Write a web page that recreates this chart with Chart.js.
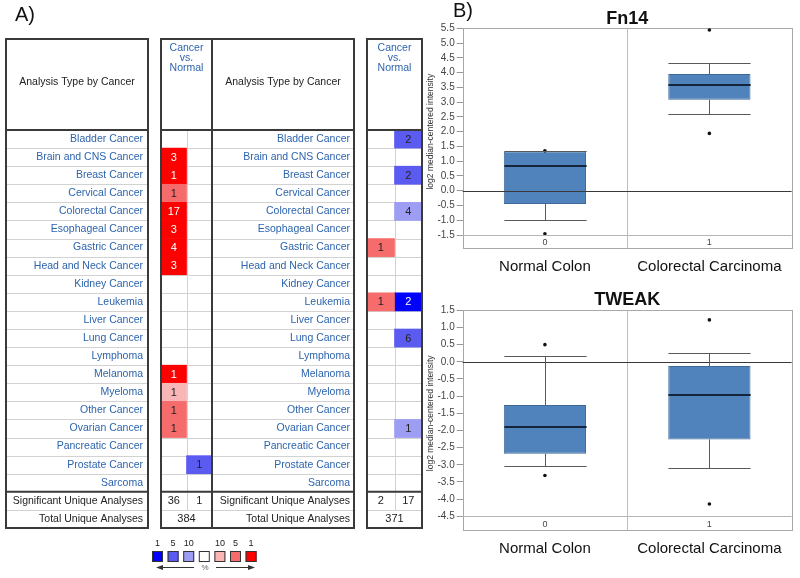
<!DOCTYPE html>
<html>
<head>
<meta charset="utf-8">
<script src="https://cdn.jsdelivr.net/npm/chart.js@4.4.1/dist/chart.umd.min.js"></script>
<style>
html, body { margin: 0; padding: 0; background: #fff; }
#wrap { position: relative; width: 800px; height: 578px; overflow: hidden; }
canvas { position: absolute; }
</style>
</head>
<body>
<div id="wrap">
  <canvas id="tab1" width="360" height="578" style="left:0;top:0"></canvas>
  <canvas id="tab2" width="218" height="578" style="left:212px;top:0"></canvas>
  <canvas id="fn14" width="380" height="280" style="left:420px;top:0"></canvas>
  <canvas id="tweak" width="380" height="308" style="left:420px;top:270px"></canvas>
</div>
<script>
// ---- A) heat table data ----
const cancers = ['Bladder Cancer', 'Brain and CNS Cancer', 'Breast Cancer', 'Cervical Cancer',
  'Colorectal Cancer', 'Esophageal Cancer', 'Gastric Cancer', 'Head and Neck Cancer', 'Kidney Cancer',
  'Leukemia', 'Liver Cancer', 'Lung Cancer', 'Lymphoma', 'Melanoma', 'Myeloma', 'Other Cancer',
  'Ovarian Cancer', 'Pancreatic Cancer', 'Prostate Cancer', 'Sarcoma'];
const summaryRows = ['Significant Unique Analyses', 'Total Unique Analyses'];

// number of analyses and gene rank class (top 1/5/10 %)
const fn14Up       = [null, 3, 1, 1, 17, 3, 4, 3, null, null, null, null, null, 1, 1, 1, 1, null, null, null];
const fn14UpRank   = [null, 1, 1, 5, 1, 1, 1, 1, null, null, null, null, null, 1, 10, 5, 5, null, null, null];
const fn14Down     = [null, null, null, null, null, null, null, null, null, null, null, null, null, null, null, null, null, null, 1, null];
const fn14DownRank = [null, null, null, null, null, null, null, null, null, null, null, null, null, null, null, null, null, null, 5, null];
const fn14Sig = [36, 1];
const fn14Total = 384;

const tweakUp       = [null, null, null, null, null, null, 1, null, null, 1, null, null, null, null, null, null, null, null, null, null];
const tweakUpRank   = [null, null, null, null, null, null, 5, null, null, 5, null, null, null, null, null, null, null, null, null, null];
const tweakDown     = [2, null, 2, null, 4, null, null, null, null, 2, null, 6, null, null, null, null, 1, null, null, null];
const tweakDownRank = [5, null, 5, null, 10, null, null, null, null, 1, null, 5, null, null, null, null, 10, null, null, null];
const tweakSig = [2, 17];
const tweakTotal = 371;

const rankKey = [1, 5, 10];
const upColors = { 1: '#fd0000', 5: '#f66b6b', 10: '#f8b6b6' };
const downColors = { 1: '#0000fb', 5: '#5b5bf1', 10: '#9d9df4' };

// ---- B) box plots ----
const groups = ['Normal Colon', 'Colorectal Carcinoma'];
const fn14Q1 = [-0.45, 3.08];
const fn14Med = [0.83, 3.59];
const fn14Q3 = [1.33, 3.95];
const fn14Lo = [-1.0, 2.6];
const fn14Hi = [1.33, 4.33];
const fn14Out = [[1.35, -1.46], [5.44, 1.94]];

const tweakQ1 = [-2.68, -2.26];
const tweakMed = [-1.9, -0.97];
const tweakQ3 = [-1.26, -0.12];
const tweakLo = [-3.04, -3.1];
const tweakHi = [0.17, 0.25];
const tweakOut = [[0.5, -3.31], [1.22, -4.14]];

const FONT = '"Liberation Sans", Arial, sans-serif';
const LINK = '#2d64ad';
const HEAD_TOP = 39;

function seg(ctx, x1, y1, x2, y2) {
  ctx.beginPath(); ctx.moveTo(x1, y1); ctx.lineTo(x2, y2); ctx.stroke();
}
function txt(ctx, s, x, y, font, color, align) {
  ctx.font = font; ctx.fillStyle = color;
  ctx.textAlign = align || 'center'; ctx.textBaseline = 'middle';
  ctx.fillText(s, x, y);
}

function drawRankKey(ctx) {
  const keyColors = [downColors[1], downColors[5], downColors[10], '#ffffff', upColors[10], upColors[5], upColors[1]];
  const keyLabels = [rankKey[0], rankKey[1], rankKey[2], '', rankKey[2], rankKey[1], rankKey[0]];
  keyColors.forEach((c, k) => {
    const x0 = 152 + k * 15.6;
    ctx.fillStyle = c;
    ctx.fillRect(x0, 551, 11, 11);
    ctx.strokeStyle = '#333'; ctx.lineWidth = 1;
    ctx.strokeRect(x0 + 0.5, 551.5, 10, 10);
    txt(ctx, String(keyLabels[k]), x0 + 5.5, 544, '9px ' + FONT, '#222');
  });
  ctx.strokeStyle = '#333'; ctx.fillStyle = '#333'; ctx.lineWidth = 1;
  seg(ctx, 160, 567.5, 194, 567.5);
  ctx.beginPath(); ctx.moveTo(156, 567.5); ctx.lineTo(163, 565); ctx.lineTo(163, 570); ctx.fill();
  seg(ctx, 216, 567.5, 251, 567.5);
  ctx.beginPath(); ctx.moveTo(255, 567.5); ctx.lineTo(248, 565); ctx.lineTo(248, 570); ctx.fill();
  txt(ctx, '%', 205, 568, '8px ' + FONT, '#666');
}

function tablePlugin(t) {
  const nRows = cancers.length + summaryRows.length;
  return {
    id: 'heatTable',
    beforeDatasetsDraw(chart) {
      const { ctx, chartArea: a, scales: { x } } = chart;
      const rowH = (a.bottom - a.top) / nRows;
      ctx.save();
      ctx.strokeStyle = '#d2d2d2';
      ctx.lineWidth = 1;
      for (let i = 1; i < nRows; i++) {
        if (i === cancers.length) continue;
        const yy = Math.round(a.top + i * rowH) + 0.5;
        t.boxes(a).forEach(([l, r]) => seg(ctx, l, yy, r, yy));
      }
      const xm = Math.round(x.getPixelForValue(1)) + 0.5;
      seg(ctx, xm, a.top, xm, a.top + (nRows - 1) * rowH);
      ctx.restore();
    },
    afterDatasetsDraw(chart) {
      const { ctx, scales: { x, y } } = chart;
      ctx.save();
      [[t.up, t.upRank], [t.down, t.downRank]].forEach(([vals, ranks], d) => {
        chart.getDatasetMeta(d).data.forEach((el, i) => {
          if (vals[i] == null) return;
          const p = el.getCenterPoint();
          txt(ctx, String(vals[i]), p.x, p.y + 0.5, '11px ' + FONT, ranks[i] === 1 ? '#fff' : '#222');
        });
      });
      const ySig = y.getPixelForValue(cancers.length);
      const yTot = y.getPixelForValue(cancers.length + 1);
      txt(ctx, String(t.sig[0]), x.getPixelForValue(0.5), ySig + 0.5, '11px ' + FONT, '#222');
      txt(ctx, String(t.sig[1]), x.getPixelForValue(1.5), ySig + 0.5, '11px ' + FONT, '#222');
      txt(ctx, String(t.total), x.getPixelForValue(1), yTot + 0.5, '11px ' + FONT, '#222');
      ctx.restore();
    },
    afterDraw(chart) {
      const { ctx, chartArea: a } = chart;
      const rowH = (a.bottom - a.top) / nRows;
      ctx.save();
      ctx.strokeStyle = '#3a3a3a';
      ctx.lineWidth = 2;
      t.boxes(a).forEach(([l, r]) => {
        ctx.strokeRect(l, HEAD_TOP, r - l, a.bottom - HEAD_TOP);
        seg(ctx, l, a.top, r, a.top);
        const ys = a.top + cancers.length * rowH;
        seg(ctx, l, ys, r, ys);
      });
      if (t.splitRight) seg(ctx, a.right, HEAD_TOP, a.right, a.bottom);
      t.heads.forEach(hx => txt(ctx, 'Analysis Type by Cancer', hx, 82, '10.5px ' + FONT, '#222'));
      const cx = (a.left + a.right) / 2;
      ['Cancer', 'vs.', 'Normal'].forEach((s, k) => txt(ctx, s, cx, 48 + k * 10, '10.5px ' + FONT, LINK));
      if (t.extra) t.extra(ctx);
      ctx.restore();
    }
  };
}

function heatTable(id, t) {
  const rows = cancers.concat(summaryRows);
  const cells = (vals, ranks, col, colors) => ({
    data: vals.map(v => v == null ? null : [col, col + 1]),
    backgroundColor: ranks.map(r => colors[r] || 'rgba(0,0,0,0)'),
    grouped: false, barPercentage: 1, categoryPercentage: 1, borderWidth: 0
  });
  return new Chart(document.getElementById(id), {
    type: 'bar',
    data: {
      labels: rows,
      datasets: [cells(t.up, t.upRank, 0, upColors), cells(t.down, t.downRank, 1, downColors)]
    },
    options: {
      indexAxis: 'y',
      responsive: false,
      animation: false,
      layout: { padding: { top: 130, bottom: 50, left: 0, right: t.padRight } },
      plugins: { legend: { display: false }, tooltip: { enabled: false } },
      scales: {
        x: { type: 'linear', min: 0, max: 2, display: false },
        y: {
          type: 'category',
          offset: true,
          grid: { display: false, drawTicks: false },
          border: { display: false },
          ticks: {
            autoSkip: false,
            padding: t.labelPad,
            font: { family: FONT, size: 10.5 },
            color: c => c.index < cancers.length ? LINK : '#222'
          },
          afterFit: s => { s.width = t.yWidth; }
        }
      }
    },
    plugins: [tablePlugin(t)]
  });
}

heatTable('tab1', {
  up: fn14Up, upRank: fn14UpRank, down: fn14Down, downRank: fn14DownRank, sig: fn14Sig, total: fn14Total,
  yWidth: 161, padRight: 148, labelPad: 18,
  boxes: a => [[6, 148], [161, 354]], heads: [77, 283], splitRight: true,
  extra: ctx => {
    txt(ctx, 'A)', 25, 15, '20px ' + FONT, '#111');
    drawRankKey(ctx);
  }
});
heatTable('tab2', {
  up: tweakUp, upRank: tweakUpRank, down: tweakDown, downRank: tweakDownRank, sig: tweakSig, total: tweakTotal,
  yWidth: 155, padRight: 8, labelPad: 17,
  boxes: a => [[a.left, a.right]], heads: [], splitRight: false
});

function boxPlot(id, title, q1, med, q3, lo, hi, outliers, yMin, yMax, lay) {
  const outPts = [];
  outliers.forEach((list, i) => list.forEach(v => outPts.push({ x: i, y: v })));
  const parts = {
    id: 'boxParts',
    beforeDatasetsDraw(chart) {
      const { ctx, chartArea: a, scales: { x } } = chart;
      ctx.save();
      ctx.strokeStyle = '#a8a8a8';
      ctx.lineWidth = 1;
      ctx.strokeRect(Math.round(a.left) + 0.5, Math.round(a.top) + 0.5, Math.round(a.width), Math.round(a.height + lay.ext));
      const xd = Math.round(x.getPixelForValue(0.5)) + 0.5;
      ctx.strokeStyle = '#bdbdbd';
      seg(ctx, xd, a.top, xd, a.bottom + lay.ext);
      groups.forEach((g, i) => txt(ctx, String(i), x.getPixelForValue(i), a.bottom + 8, '9px ' + FONT, '#444'));
      txt(ctx, title, (a.left + a.right) / 2, a.top - lay.titleGap, 'bold 18px ' + FONT, '#111');
      if (lay.label) txt(ctx, lay.label, 43, 11, '20px ' + FONT, '#111');
      ctx.restore();
    },
    afterDatasetsDraw(chart) {
      const { ctx, chartArea: a, scales: { x, y } } = chart;
      ctx.save();
      ctx.lineWidth = 1;
      ctx.strokeStyle = '#b5b5b5';
      const yb = Math.round(y.getPixelForValue(yMin)) + 0.5;
      seg(ctx, a.left, yb, a.right, yb);
      ctx.strokeStyle = '#3a3a3a';
      const y0 = Math.round(y.getPixelForValue(0)) + 0.5;
      seg(ctx, a.left, y0, a.right, y0);
      const half = (x.getPixelForValue(1) - x.getPixelForValue(0)) * 0.25;
      groups.forEach((g, i) => {
        const cx = Math.round(x.getPixelForValue(i)) + 0.5;
        const yl = Math.round(y.getPixelForValue(lo[i])) + 0.5;
        const yh = Math.round(y.getPixelForValue(hi[i])) + 0.5;
        ctx.strokeStyle = '#5a5a5a';
        seg(ctx, cx, y.getPixelForValue(q1[i]), cx, yl);
        seg(ctx, cx, y.getPixelForValue(q3[i]), cx, yh);
        seg(ctx, cx - half, yl, cx + half, yl);
        seg(ctx, cx - half, yh, cx + half, yh);
        ctx.strokeStyle = '#16263a';
        ctx.lineWidth = 2;
        const ym = Math.round(y.getPixelForValue(med[i]));
        seg(ctx, cx - half, ym, cx + half, ym);
        ctx.lineWidth = 1;
      });
      ctx.restore();
    }
  };
  return new Chart(document.getElementById(id), {
    type: 'bar',
    data: {
      datasets: [
        {
          type: 'bar',
          data: groups.map((g, i) => ({ x: i, y: [q1[i], q3[i]] })),
          backgroundColor: '#5083bb',
          borderColor: '#3d6897',
          borderWidth: 1,
          borderSkipped: false,
          barPercentage: 0.5,
          categoryPercentage: 1,
          order: 2
        },
        {
          type: 'scatter',
          data: outPts,
          pointRadius: 1.8,
          pointBackgroundColor: '#111',
          pointBorderWidth: 0,
          clip: false,
          order: 1
        }
      ]
    },
    options: {
      responsive: false,
      animation: false,
      layout: { padding: { top: lay.top, right: 8.4, left: 0, bottom: 0 } },
      plugins: { legend: { display: false }, tooltip: { enabled: false } },
      scales: {
        x: {
          type: 'linear',
          min: -0.5,
          max: 1.5,
          offset: false,
          afterBuildTicks: s => { s.ticks = [{ value: 0 }, { value: 1 }]; },
          ticks: { callback: v => groups[v], font: { family: FONT, size: 15 }, color: '#111', padding: lay.labelPad, maxRotation: 0, autoSkip: false },
          grid: { display: false, drawTicks: false, offset: false },
          border: { display: false },
          afterFit: s => { s.height = lay.axisH; s.paddingLeft = 0; s.paddingRight = 0; }
        },
        y: {
          min: yMin,
          max: yMax,
          ticks: { stepSize: 0.5, autoSkip: false, callback: v => v.toFixed(1), font: { family: FONT, size: 10 }, color: '#444', padding: 2 },
          grid: { drawOnChartArea: false, drawTicks: true, tickLength: 6, color: '#999', tickColor: '#999' },
          border: { display: false },
          title: { display: true, text: 'log2 median-centered intensity', font: { family: FONT, size: 8.5 }, color: '#333', padding: { top: 6, bottom: 0 } },
          afterFit: s => { s.width = 42.7; s.paddingTop = 0; s.paddingBottom = 0; }
        }
      }
    },
    plugins: [parts]
  });
}

boxPlot('fn14', 'Fn14', fn14Q1, fn14Med, fn14Q3, fn14Lo, fn14Hi, fn14Out, -1.5, 5.5,
  { top: 28.3, axisH: 45, labelPad: 23, ext: 13, titleGap: 9, label: 'B)' });
boxPlot('tweak', 'TWEAK', tweakQ1, tweakMed, tweakQ3, tweakLo, tweakHi, tweakOut, -4.5, 1.5,
  { top: 40.3, axisH: 61.7, labelPad: 24, ext: 14, titleGap: 10 });
</script>
</body>
</html>
